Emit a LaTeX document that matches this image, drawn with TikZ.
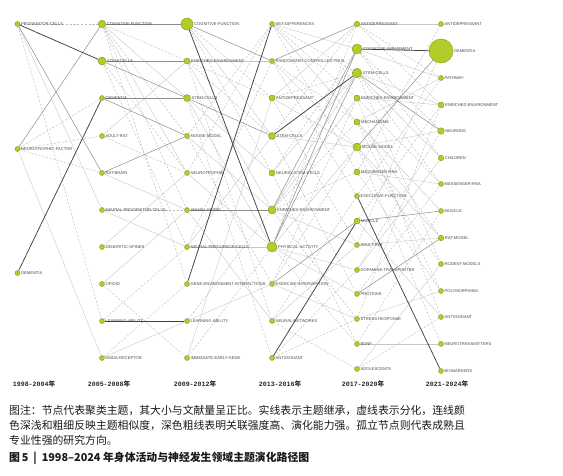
\documentclass[tikz,border=0pt]{standalone}
\usepackage{fontspec}
\setmainfont{Liberation Sans}
\newfontfamily\cjk{Noto Sans CJK SC}
\newfontfamily\labfont{Liberation Sans}
\newfontfamily\yearfont{Liberation Mono}
\pgfdeclarelayer{bg}
\pgfsetlayers{bg,main}
\definecolor{nodecol}{RGB}{178,204,40}
\definecolor{nodedark}{RGB}{118,146,18}
\definecolor{labcol}{RGB}{70,70,70}
\tikzset{
  topic/.style={circle,inner sep=0pt,fill=nodecol,draw=nodedark,line width=0.35pt},
  lab/.style={font=\labfont\fontsize{4.1}{4.2}\selectfont,text=labcol,inner sep=0.8pt},
  ess/.style={draw=black!75,line width=0.75pt},
  emd/.style={draw=black!45,line width=0.5pt},
  elt/.style={draw=black!22,line width=0.4pt},
  edsh/.style={draw=black!28,line width=0.4pt,dash pattern=on 2.2pt off 1.6pt},
  yearlab/.style={font=\yearfont\bfseries\fontsize{6.6}{7}\selectfont,text=black!85,inner sep=0pt},
  captxt/.style={font=\cjk\fontsize{10.85}{13}\selectfont,text=black!90,anchor=west,inner sep=0pt}
}
\newcommand\tnode[4]{\node[topic,minimum size=#3pt,label={[lab]0:#4}] (#1) at (#2) {};}
\begin{document}
\begin{tikzpicture}[x=1pt,y=-1pt]
\useasboundingbox (0,0) rectangle (563,475);
% column 1
\tnode{p1}{17.5,24}{5}{PROGENITOR-CELLS}
\tnode{p2}{17.5,149}{5}{NEUROTROPHIC-FACTOR}
\tnode{p3}{17.5,273}{5}{DEMENTIA}
% column 2
\tnode{q1}{102,24}{7.5}{COGNITIVE-FUNCTION}
\tnode{q2}{102,61}{8}{STEM-CELLS}
\tnode{q3}{102,98}{5}{DEMENTIA}
\tnode{q4}{102,136}{5}{ADULT-RAT}
\tnode{q5}{102,173}{5}{RAT-BRAIN}
\tnode{q6}{102,210}{5}{NEURAL-PROGENITOR-CELLS}
\tnode{q7}{102,247}{5}{DENDRITIC-SPINES}
\tnode{q8}{102,284}{5}{OPIOID}
\tnode{q9}{102,321}{5}{LEARNING-ABILITY}
\tnode{q10}{102,358}{5}{NMDA-RECEPTOR}
% column 3
\tnode{r1}{187,24}{12}{COGNITIVE-FUNCTION}
\tnode{r2}{187,61}{6}{ENRICHED-ENVIRONMENT}
\tnode{r3}{187,98}{7}{STEM-CELLS}
\tnode{r4}{187,136}{5}{MOUSE-MODEL}
\tnode{r5}{187,173}{5}{NEUROTROPHIN}
\tnode{r6}{187,210}{5}{ANIMAL-MODEL}
\tnode{r7}{187,247}{5}{NEURAL-PRECURSOR-CELLS}
\tnode{r8}{187,284}{5}{GENE-ENVIRONMENT-INTERACTIONS}
\tnode{r9}{187,321}{5}{LEARNING-ABILITY}
\tnode{r10}{187,358}{5}{IMMEDIATE-EARLY-GENE}
% column 4
\tnode{s1}{272,24}{5}{SEX-DIFFERENCES}
\tnode{s2}{272,61}{5}{RANDOMIZED-CONTROLLED-TRIAL}
\tnode{s3}{272,98}{6}{ANTIDEPRESSANT}
\tnode{s4}{272,136}{7}{STEM-CELLS}
\tnode{s5}{272,173}{6}{NEURAL-STEM-CELLS}
\tnode{s6}{272,210}{8}{ENRICHED-ENVIRONMENT}
\tnode{s7}{272,247}{10}{PHYSICAL-ACTIVITY}
\tnode{s8}{272,284}{5}{EXERCISE-INTERVENTION}
\tnode{s9}{272,321}{5}{NEURAL-NETWORKS}
\tnode{s10}{272,358}{5}{ANTIOXIDANT}
% column 5
\tnode{t1}{357,24}{5.5}{ANTIDEPRESSANT}
\tnode{t2}{357,49}{10}{COGNITIVE-IMPAIRMENT}
\tnode{t3}{357,73}{9.5}{STEM-CELLS}
\tnode{t4}{357,98}{6}{ENRICHED-ENVIRONMENT}
\tnode{t5}{357,122}{6}{MECHANISMS}
\tnode{t6}{357,147}{8}{MOUSE-MODEL}
\tnode{t7}{357,172}{6}{MESSENGER-RNA}
\tnode{t8}{357,196}{5}{EXECUTIVE-FUNCTION}
\tnode{t9}{357,221}{6}{MUSCLE}
\tnode{t10}{357,245}{5}{ADULT-RAT}
\tnode{t11}{357,270}{5}{DOPAMINE-TRANSPORTER}
\tnode{t12}{357,294}{5}{PROTEINS}
\tnode{t13}{357,319}{5}{STRESS-RESPONSE}
\tnode{t14}{357,344}{5}{BDNF}
\tnode{t15}{357,369}{5}{ADOLESCENTS}
% column 6
\tnode{u1}{441,24}{5}{ANTIDEPRESSANT}
\tnode{u2}{441,51}{24}{DEMENTIA}
\tnode{u3}{441,78}{5}{PATHWAY}
\tnode{u4}{441,105}{6}{ENRICHED-ENVIRONMENT}
\tnode{u5}{441,131}{6.5}{NEURONS}
\tnode{u6}{441,158}{5.5}{CHILDREN}
\tnode{u7}{441,184}{5}{MESSENGER-RNA}
\tnode{u8}{441,211}{5}{MUSCLE}
\tnode{u9}{441,238}{5.5}{RAT-MODEL}
\tnode{u10}{441,264}{5}{RODENT-MODELS}
\tnode{u11}{441,291}{5}{POLYMORPHISM}
\tnode{u12}{441,317}{5}{ANTIOXIDANT}
\tnode{u13}{441,344}{5}{NEUROTRANSMITTERS}
\tnode{u14}{441,371}{5}{BIOMARKERS}
% connectors
\begin{pgfonlayer}{bg}
\foreach \a/\b in {p1/q1,p1/q9,p2/q3,p2/q4,p2/q5,q1/r4,q1/r6,q1/r8,q2/r5,q2/r7,q6/r6,q9/r7,q8/r10,q4/r5,q10/r8,q1/r2,
  r1/s3,r1/s5,r2/s4,r2/s9,r3/s10,r4/s8,r6/s6,r7/s2,r10/s7,r9/s6,r5/s1,r2/s3,r4/s1,
  s1/t4,s1/t7,s2/t5,s2/t8,s3/t10,s4/t12,s5/t14,s6/t13,s8/t6,s9/t15,s10/t11,s4/t1,s6/t7,s7/t14,s3/t3,s5/t2,s6/t5,s2/t6,s1/t3,s9/t8,s8/t4,s10/t13,s7/t1,
  t1/u3,t2/u6,t3/u10,t4/u12,t5/u11,t6/u13,t7/u1,t11/u5,t12/u7,t13/u4,t14/u8,t15/u12,t10/u2,t8/u3,t4/u7,t5/u9,t6/u10,t7/u11,t9/u4,t2/u5,t3/u7,t1/u4}
  \draw[edsh] (\a) -- (\b);
\foreach \a/\b in {p1/q6,p2/q10,q1/r3,q4/r2,q6/r7,q7/r5,q8/r6,q10/r9,q5/r6,q1/r5,
  r2/s6,r3/s5,r4/s6,r5/s7,r7/s4,r10/s3,r9/s8,r2/s2,r6/s9,r7/s7,r3/s7,r1/s4,
  s1/t2,s3/t6,s5/t3,s6/t4,s7/t6,s7/t11,s9/t10,s3/t1,s1/t5,s6/t3,s4/t6,s7/t12,s8/t13,s6/t10,
  t1/u1,t4/u4,t5/u3,t7/u7,t6/u9,t10/u9,t11/u6,t13/u11,t14/u13,t3/u4,t2/u3,t15/u10,t3/u6,t6/u5,t5/u8,t9/u12}
  \draw[elt] (\a) -- (\b);
\foreach \a/\b in {q1/r1,p2/q1,p1/q5,q2/r2,q3/r3,q3/r4,q5/r4,q2/r3,r1/s2,r3/s4,r6/s6,
  s2/t1,s8/t9,s7/t3,s6/t2,s7/t2,
  t9/u8,t12/u9,t3/u5,t6/u2}
  \draw[emd] (\a) -- (\b);
\foreach \a/\b in {p1/q2,p3/q3,q9/r9,r1/s7,r8/s1,s4/t3,s10/t9,t2/u2,t8/u14}
  \draw[ess] (\a) -- (\b);
\end{pgfonlayer}
% year labels
\node[yearlab] (y1) at (34,384) {1998-2004{\cjk\bfseries 年}};
\node[yearlab] (y2) at (109,384) {2005-2008{\cjk\bfseries 年}};
\node[yearlab] (y3) at (195,384) {2009-2012{\cjk\bfseries 年}};
\node[yearlab] (y4) at (280,384) {2013-2016{\cjk\bfseries 年}};
\node[yearlab] (y5) at (363,384) {2017-2020{\cjk\bfseries 年}};
\node[yearlab] (y6) at (447,384) {2021-2024{\cjk\bfseries 年}};
% caption
\node[captxt] (cap1) at (9,410) {图注：节点代表聚类主题，其大小与文献量呈正比。实线表示主题继承，虚线表示分化，连线颜};
\node[captxt] (cap2) at (9,425) {色深浅和粗细反映主题相似度，深色粗线表明关联强度高、演化能力强。孤立节点则代表成熟且};
\node[captxt] (cap3) at (9,440) {专业性强的研究方向。};
\node[anchor=west,inner sep=0pt,font=\cjk\bfseries\fontsize{10.85}{13}\selectfont,text=black!90] (title) at (9,458) {图\,5\ \ |\ \ 1998–2024 年身体活动与神经发生领域主题演化路径图};
\end{tikzpicture}
\end{document}
